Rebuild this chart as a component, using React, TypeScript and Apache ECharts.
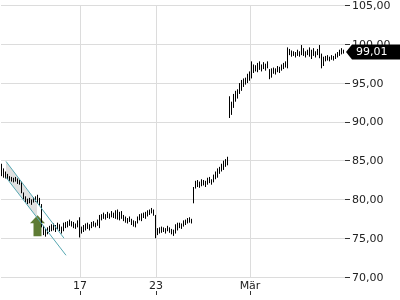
import React, { useEffect, useRef } from "react";
import * as echarts from "echarts";

// Each bar: [open, close, low, high]
const barsDay1: number[][] = [
  [84.4, 83.3, 83.0, 84.6], [83.3, 83.5, 82.8, 84.0], [83.5, 83.0, 82.7, 83.6], [83.0, 82.9, 82.6, 83.3],
  [82.9, 82.6, 82.4, 83.0], [82.6, 82.7, 82.3, 82.9], [82.7, 82.4, 82.2, 82.8], [82.4, 82.6, 82.3, 82.9],
  [82.6, 82.2, 82.0, 82.7], [82.2, 82.1, 81.9, 82.5], [82.1, 80.9, 80.8, 82.3], [80.9, 80.3, 80.0, 80.9],
  [80.3, 79.9, 79.6, 80.4], [79.9, 79.7, 79.4, 80.1], [79.7, 79.9, 79.5, 80.2], [79.9, 79.6, 79.3, 80.0],
  [79.6, 80.0, 79.6, 80.3], [80.0, 79.9, 79.7, 80.4], [79.9, 80.2, 79.5, 80.6], [80.2, 79.6, 79.2, 80.2],
];
const barsDay2: number[][] = [
  [79.2, 76.5, 76.4, 79.4], [76.5, 75.8, 75.4, 76.6], [75.8, 75.6, 75.2, 76.2], [75.6, 76.1, 75.5, 76.4],
  [76.1, 76.4, 75.8, 76.6], [76.4, 76.2, 75.9, 76.8], [76.2, 76.6, 76.0, 76.9], [76.6, 76.0, 75.8, 76.7],
  [76.2, 76.7, 76.1, 77.0], [76.7, 76.1, 75.9, 76.8], [76.1, 75.9, 75.6, 76.5], [75.9, 76.7, 75.9, 77.0],
  [76.7, 76.8, 76.3, 77.1], [76.8, 76.6, 76.4, 77.2], [76.6, 77.1, 76.6, 77.4], [77.1, 76.8, 76.5, 77.2],
  [76.8, 76.5, 76.3, 77.1], [76.5, 76.6, 76.2, 76.9], [76.6, 77.0, 76.4, 77.3],
];
const barsDay17: number[][] = [
  [77.5, 75.6, 75.1, 77.7], [75.6, 76.2, 75.6, 76.5], [76.2, 76.0, 75.8, 76.7], [76.0, 76.6, 76.0, 76.9],
  [76.6, 76.5, 76.2, 77.0], [76.5, 76.3, 76.0, 76.8], [76.3, 76.9, 76.3, 77.1], [76.9, 76.8, 76.5, 77.2],
  [76.8, 76.6, 76.4, 77.0], [76.6, 77.2, 76.6, 77.4], [77.2, 77.8, 76.3, 78.0], [77.8, 77.6, 77.3, 78.1],
  [77.6, 78.0, 77.5, 78.3], [78.0, 77.7, 77.4, 78.1], [77.7, 78.2, 77.6, 78.4], [78.2, 77.8, 77.5, 78.2],
  [77.8, 78.3, 77.7, 78.5], [78.3, 77.9, 77.6, 78.3], [77.9, 78.4, 77.5, 78.6], [78.4, 77.8, 77.4, 78.7],
  [77.8, 78.1, 77.3, 78.4], [78.1, 77.7, 77.5, 78.5], [77.7, 77.4, 77.2, 78.0], [77.4, 77.2, 77.0, 77.8],
  [77.2, 77.4, 76.9, 77.6], [77.4, 77.1, 77.1, 77.8], [77.1, 76.9, 76.7, 77.5], [76.9, 76.7, 76.5, 77.3],
  [76.7, 77.0, 76.4, 77.2], [77.0, 77.6, 76.9, 77.8], [77.6, 77.5, 77.3, 78.1], [77.5, 78.0, 77.2, 78.2],
  [78.0, 77.8, 77.6, 78.3], [77.8, 78.2, 77.5, 78.4], [78.2, 78.4, 77.8, 78.6], [78.4, 78.3, 78.0, 78.7],
  [78.3, 78.7, 78.2, 78.9], [78.7, 78.2, 77.9, 78.7],
];
const barsDay23: number[][] = [
  [77.8, 75.5, 75.0, 78.0], [75.5, 76.0, 75.4, 76.3], [76.0, 75.8, 75.6, 76.4], [75.8, 76.2, 75.7, 76.5],
  [76.2, 75.9, 75.8, 76.4], [75.9, 76.1, 75.6, 76.3], [76.1, 76.3, 75.9, 76.6], [76.3, 75.9, 75.7, 76.4],
  [75.9, 75.7, 75.5, 76.2], [75.7, 75.9, 75.3, 76.1], [75.9, 76.6, 75.6, 76.8], [76.6, 76.4, 76.0, 77.0],
  [76.4, 76.8, 76.3, 77.0], [76.8, 76.5, 76.2, 76.9], [76.5, 77.0, 76.5, 77.3], [77.0, 77.2, 76.7, 77.4],
  [77.2, 77.4, 76.9, 77.6], [77.4, 77.3, 77.0, 77.7], [77.3, 77.1, 76.9, 77.5],
];
const barsDay24: number[][] = [
  [79.8, 81.4, 79.5, 81.6], [81.4, 82.0, 81.4, 82.4], [82.0, 81.8, 81.6, 82.5], [81.8, 82.1, 81.5, 82.3],
  [82.1, 82.3, 81.7, 82.6], [82.3, 82.0, 81.8, 82.5], [82.0, 82.2, 81.6, 82.4], [82.2, 82.6, 81.9, 82.8],
  [82.6, 82.4, 82.1, 82.9], [82.4, 82.2, 81.9, 82.6], [82.2, 83.0, 82.2, 83.2], [83.0, 83.4, 82.6, 83.6],
  [83.4, 83.8, 82.8, 84.0], [83.8, 83.6, 83.3, 84.2], [83.6, 84.4, 83.6, 84.6], [84.4, 84.8, 83.8, 85.0],
  [84.8, 85.0, 84.2, 85.2], [85.0, 84.8, 84.4, 85.5],
];
const barsDay25: number[][] = [
  [93.1, 91.0, 90.5, 93.3], [91.0, 92.2, 90.9, 92.6], [92.2, 93.3, 91.8, 93.6], [93.3, 93.0, 92.6, 94.0],
  [93.0, 93.9, 93.0, 94.2], [93.9, 94.6, 93.6, 95.0], [94.6, 95.0, 94.0, 95.4], [95.0, 94.8, 94.5, 95.6],
  [94.8, 95.4, 94.8, 95.7], [95.4, 95.9, 95.0, 96.2], [95.9, 95.6, 95.3, 96.5], [95.6, 97.3, 95.6, 97.8],
  [97.3, 96.8, 96.3, 97.4], [96.8, 97.1, 96.5, 97.3], [97.1, 96.7, 96.4, 97.6], [96.7, 97.4, 96.7, 97.8],
  [97.4, 96.9, 96.5, 97.4], [96.9, 97.3, 96.8, 97.7], [97.3, 96.9, 96.6, 97.5], [96.9, 97.5, 96.9, 97.8],
  [96.8, 95.8, 95.5, 96.8], [95.8, 96.5, 95.7, 96.9], [96.5, 96.3, 96.2, 97.0], [96.3, 96.6, 96.1, 96.9],
  [96.6, 96.9, 96.4, 97.2], [96.9, 96.6, 96.3, 97.1], [96.6, 97.1, 96.6, 97.4], [97.1, 97.3, 96.8, 97.6],
  [97.3, 97.6, 97.0, 97.8],
];
const barsDay26: number[][] = [
  [97.2, 99.2, 96.9, 99.6], [99.2, 98.8, 98.6, 99.4], [98.8, 99.0, 98.4, 99.2], [99.0, 98.7, 98.5, 99.1],
  [98.7, 98.6, 98.3, 99.0], [98.6, 99.1, 98.5, 99.3], [99.1, 98.7, 98.4, 99.1], [98.7, 99.5, 98.6, 99.9],
  [99.5, 98.8, 98.5, 99.5], [98.8, 98.6, 98.3, 99.1], [98.6, 99.0, 98.6, 99.3], [99.0, 99.3, 98.4, 99.6],
  [99.3, 98.5, 98.1, 99.3], [98.5, 99.1, 98.5, 99.5], [99.1, 98.7, 98.3, 99.1], [98.7, 99.0, 98.6, 99.4],
  [99.0, 99.6, 98.2, 99.9], [98.6, 97.2, 96.9, 98.8], [97.2, 98.1, 97.2, 98.4], [98.1, 98.2, 97.8, 98.5],
  [98.2, 98.0, 97.9, 98.6], [98.0, 98.2, 97.8, 98.4], [98.2, 98.3, 98.0, 98.6], [98.3, 98.1, 97.9, 98.5],
  [98.1, 98.5, 98.1, 98.8], [98.5, 98.7, 98.3, 99.0], [98.7, 99.0, 98.5, 99.3], [99.0, 99.3, 98.7, 99.5],
  [99.3, 99.01, 98.8, 99.3],
];

const allBars = [
  ...barsDay1, ...barsDay2, ...barsDay17, ...barsDay23, ...barsDay24, ...barsDay25, ...barsDay26,
];
const categories = allBars.map((_, i) => String(i));

const xTickIndex = [39, 77, 124];
const xTickText = ["17", "23", "Mär"];

const yMin = 70;
const yMax = 105;
const yStep = 5;
const lastPrice = 99.01;

// trend channel: [index, value] end points
const channelUpper: number[][] = [[2, 84.9], [31, 75.0]];
const channelLower: number[][] = [[2, 82.85], [32, 72.8]];
const channelFillEndIndex = 17;
const signalPoint = [18, 75.25];

const FONT = "DejaVu Sans";

export default function App() {
  const ref = useRef<HTMLDivElement>(null);
  useEffect(() => {
    const chart = echarts.init(ref.current!, null, { renderer: "svg" });
    const isTick = (i: number) => xTickIndex.includes(i);
    chart.setOption({
      animation: false,
      grid: { left: 1, right: 55, top: 4, bottom: 23 },
      xAxis: {
        type: "category",
        data: categories,
        boundaryGap: true,
        offset: 14,
        axisLine: { show: false },
        axisTick: {
          show: true,
          alignWithLabel: true,
          interval: (i: number) => isTick(i),
          length: 4,
          lineStyle: { color: "#333" },
        },
        axisLabel: {
          interval: (i: number) => isTick(i),
          formatter: (_v: string, i: number) => {
            const k = xTickIndex.indexOf(i);
            return k >= 0 ? xTickText[k] : "";
          },
          margin: -11,
          fontSize: 11,
          color: "#222",
          fontFamily: FONT,
        },
        splitLine: {
          show: true,
          alignWithLabel: true,
          interval: (i: number) => isTick(i),
          lineStyle: { color: "#dcdcdc", width: 1 },
        },
      },
      yAxis: {
        type: "value",
        position: "right",
        min: yMin,
        max: yMax,
        interval: yStep,
        axisLine: { show: false },
        axisTick: { show: true, length: 5, lineStyle: { color: "#333" } },
        axisLabel: {
          formatter: (v: number) => v.toFixed(2).replace(".", ","),
          margin: 7,
          fontSize: 11,
          color: "#222",
          fontFamily: FONT,
        },
        splitLine: { show: true, lineStyle: { color: "#dcdcdc", width: 1 } },
      },
      series: [
        {
          type: "candlestick",
          data: allBars,
          barWidth: 0.4,
          z: 3,
          itemStyle: {
            color: "#000",
            color0: "#000",
            borderColor: "#000",
            borderColor0: "#000",
            borderColorDoji: "#000",
            borderWidth: 1,
          },
          markLine: {
            silent: true,
            symbol: ["none", "none"],
            label: { show: false },
            lineStyle: { color: "#56a7b1", width: 1, type: "solid" },
            data: [
              [{ coord: channelUpper[0] }, { coord: channelUpper[1] }],
              [{ coord: channelLower[0] }, { coord: channelLower[1] }],
            ],
          },
        },
      ],
    });

    const px = (i: number, v: number) =>
      chart.convertToPixel({ seriesIndex: 0 }, [i, v]) as number[];
    const band = px(1, yMin)[0] - px(0, yMin)[0];
    const right = px(allBars.length - 1, yMin)[0] + band / 2;
    const yLast = px(0, lastPrice)[1];

    const U0 = px(channelUpper[0][0], channelUpper[0][1]);
    const U1 = px(channelUpper[1][0], channelUpper[1][1]);
    const L0 = px(channelLower[0][0], channelLower[0][1]);
    const L1 = px(channelLower[1][0], channelLower[1][1]);
    const xEnd = px(channelFillEndIndex, yMin)[0] + band / 2;
    const yAt = (a: number[], b: number[], x: number) =>
      a[1] + ((b[1] - a[1]) * (x - a[0])) / (b[0] - a[0]);

    const base = px(signalPoint[0], signalPoint[1]);
    const bx = base[0] - 0.5;
    const by = base[1];

    chart.setOption({
      graphic: [
        {
          type: "polygon",
          z: 1,
          silent: true,
          shape: {
            points: [U0, [xEnd, yAt(U0, U1, xEnd)], [xEnd, yAt(L0, L1, xEnd)], L0],
          },
          style: { fill: "rgba(0,0,0,0.12)" },
        },
        {
          type: "polygon",
          z: 2,
          silent: true,
          shape: {
            points: [
              [bx - 4, by], [bx + 4, by], [bx + 4, by - 13], [bx + 7.5, by - 13],
              [bx, by - 21], [bx - 7.5, by - 13], [bx - 4, by - 13],
            ],
          },
          style: { fill: "#5e7b34" },
        },
        {
          type: "polygon",
          z: 100,
          silent: true,
          shape: {
            points: [
              [right + 1, yLast], [right + 7, yLast - 7.5], [400, yLast - 7.5],
              [400, yLast + 7.5], [right + 7, yLast + 7.5],
            ],
          },
          style: { fill: "#000" },
        },
        {
          type: "text",
          z: 101,
          silent: true,
          x: right + 11,
          y: yLast,
          style: {
            text: lastPrice.toFixed(2).replace(".", ","),
            fill: "#fff",
            fontSize: 11,
            fontFamily: FONT,
            verticalAlign: "middle",
            align: "left",
          },
        },
      ],
    });

    return () => chart.dispose();
  }, []);

  return (
    <div
      ref={ref}
      style={{ position: "fixed", left: 0, top: 0, width: 400, height: 300 }}
    />
  );
}
